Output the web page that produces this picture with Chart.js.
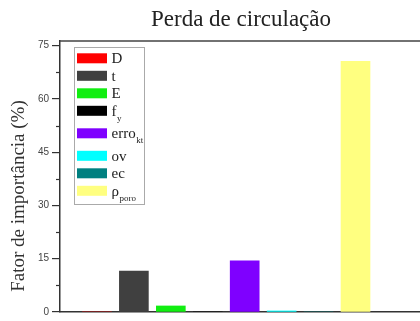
<!DOCTYPE html>
<html>
<head>
<meta charset="utf-8">
<script src="https://cdn.jsdelivr.net/npm/chart.js@4.4.1/dist/chart.umd.min.js"></script>
<style>
  html, body { margin: 0; padding: 0; background: #fff; overflow: hidden; }
  #wrap { width: 422px; height: 321px; }
</style>
</head>
<body>
<div id="wrap"><canvas id="c" width="422" height="321"></canvas></div>
<script>
// Parameters ranked by importance for circulation loss
const categories = ['D', 't', 'E', 'fy', 'erro_kt', 'ov', 'ec', 'rho_poro'];
const legendMain = ['D', 't', 'E', 'f', 'erro', 'ov', 'ec', 'ρ'];
const legendSub  = ['',  '',  '',  'y', 'kt',   '',   '',   'poro'];
const importance = [0, 11.5, 1.7, 0, 14.4, 0.3, 0, 70.6];
const barColors = ['#ff0000', '#404040', '#11ee11', '#000000', '#7f00ff', '#00ffff', '#008080', '#ffff80'];
const yTicks = [0, 15, 30, 45, 60, 75];
const yMinorTicks = [7.5, 22.5, 37.5, 52.5, 67.5];

const serif = '"Liberation Serif", "DejaVu Serif", serif';
const sans = '"Liberation Sans", Arial, sans-serif';

const frame = {
  id: 'frame',
  afterDraw(chart) {
    const { ctx, chartArea: a, scales: { y } } = chart;
    ctx.save();
    // top and right frame
    ctx.strokeStyle = '#444';
    ctx.lineWidth = 1.5;
    ctx.beginPath();
    ctx.moveTo(a.left, a.top);
    ctx.lineTo(a.right, a.top);
    ctx.lineTo(a.right, a.bottom);
    ctx.stroke();
    // minor ticks on the y axis
    ctx.lineWidth = 1.2;
    ctx.strokeStyle = '#333';
    yMinorTicks.forEach(v => {
      const py = Math.round(y.getPixelForValue(v)) + 0.5;
      ctx.beginPath();
      ctx.moveTo(a.left - 4, py);
      ctx.lineTo(a.left, py);
      ctx.stroke();
    });
    // y axis title
    ctx.fillStyle = '#333';
    ctx.font = '19px ' + serif;
    ctx.textAlign = 'center';
    ctx.textBaseline = 'middle';
    ctx.translate(19, 196);
    ctx.rotate(-Math.PI / 2);
    ctx.fillText('Fator de importância (%)', 0, 0);
    ctx.restore();

    // legend
    ctx.save();
    ctx.strokeStyle = '#aaa';
    ctx.lineWidth = 1;
    ctx.strokeRect(74.5, 47.5, 70, 157);
    let cy = 58.3;
    legendMain.forEach((txt, i) => {
      ctx.fillStyle = barColors[i];
      ctx.fillRect(77, cy - 5, 30, 10);
      ctx.fillStyle = '#222';
      ctx.font = '15px ' + serif;
      ctx.textAlign = 'left';
      ctx.textBaseline = 'alphabetic';
      ctx.fillText(txt, 111.5, cy + 5);
      if (legendSub[i]) {
        const w = ctx.measureText(txt).width;
        ctx.font = '9px ' + serif;
        ctx.fillText(legendSub[i], 111.5 + w + 0.5, cy + 10);
        cy += 22.5;
      } else {
        cy += 17.5;
      }
    });
    ctx.restore();
  }
};

new Chart(document.getElementById('c'), {
  type: 'bar',
  data: {
    datasets: [{
      data: categories.map((c, i) => ({ x: i + 1, y: importance[i] })),
      backgroundColor: barColors,
      borderWidth: 0,
      barThickness: 29
    }]
  },
  options: {
    responsive: false,
    animation: false,
    devicePixelRatio: 1,
    layout: { padding: { top: 0, right: 0, bottom: 5, left: 0 } },
    plugins: {
      legend: { display: false },
      tooltip: { enabled: false },
      title: {
        display: true,
        fullSize: false,
        text: 'Perda de circulação',
        color: '#222',
        font: { family: serif, size: 23, weight: 'normal' },
        padding: { top: 6, bottom: 7.4 }
      }
    },
    scales: {
      x: {
        type: 'linear',
        offset: false,
        min: 0,
        max: 9.8,
        ticks: { display: false },
        grid: { display: false, drawTicks: false },
        border: { display: true, color: '#333', width: 1.5 },
        afterFit(s) { s.height = 0; }
      },
      y: {
        min: 0,
        max: 76.3,
        afterBuildTicks(s) { s.ticks = yTicks.map(v => ({ value: v })); },
        ticks: {
          color: '#444',
          font: { family: sans, size: 10 },
          padding: 3
        },
        grid: { drawOnChartArea: false, drawTicks: true, tickLength: 8, color: '#333', lineWidth: 1.2 },
        border: { display: true, color: '#333', width: 1.5 },
        afterFit(s) { s.width = 60; }
      }
    }
  },
  plugins: [frame]
});
</script>
</body>
</html>
